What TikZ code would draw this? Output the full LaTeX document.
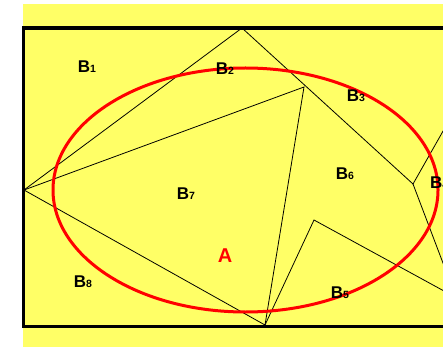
\documentclass[tikz,border=0pt]{standalone}
\usepackage{fontspec}
\setmainfont{Liberation Sans}
\definecolor{Paper}{HTML}{FFFF66}
\definecolor{Ring}{HTML}{FF0000}
\tikzset{
  region/.style={font=\bfseries\fontsize{17}{19}\selectfont,inner sep=0pt},
  edge/.style={line width=.8pt}
}
\newcommand{\lab}[1]{B{\fontsize{10.5}{12}\selectfont #1}}

\begin{document}
\begin{tikzpicture}[x=1pt,y=-1pt]
  \useasboundingbox (0,0) rectangle (443,347);
  \clip (0,0) rectangle (443,347);
  \fill[Paper] (23,4) rectangle (460,347);
  % cell corners
  \coordinate (T) at (242,28);
  \coordinate (L) at (24,190);
  \coordinate (P) at (304,87);
  \coordinate (Bt) at (265,325);
  \coordinate (N) at (314,220);
  \coordinate (J) at (413,184);
  \coordinate (Ja) at (455,110);
  \coordinate (Jb) at (446,271);
  \coordinate (Nr) at (455,297);
  \draw[edge] (L)--(T)--(J)--(Ja);
  \draw[edge] (J)--(Jb);
  \draw[edge] (L)--(P)--(Bt)--(L);
  \draw[edge] (Bt)--(N)--(Nr);
  \draw[line width=3.3pt] (23.5,28) rectangle (470,326.5);
  \draw[Ring,line width=3pt] (245.5,190) ellipse[x radius=192.5,y radius=122];
  % labels
  \node[region] (b1) at (87,67) {\lab{1}};
  \node[region] (b2) at (225,69) {\lab{2}};
  \node[region] (b3) at (356,96) {\lab{3}};
  \node[region,anchor=west] (b4) at (430,183) {\lab{4}};
  \node[region] (b5) at (340,293) {\lab{5}};
  \node[region] (b6) at (345,174) {\lab{6}};
  \node[region] (b7) at (186,194) {\lab{7}};
  \node[region] (b8) at (83,282) {\lab{8}};
  \node[region,text=Ring,font=\bfseries\fontsize{20}{22}\selectfont] (a) at (225,256) {A};
\end{tikzpicture}
\end{document}
